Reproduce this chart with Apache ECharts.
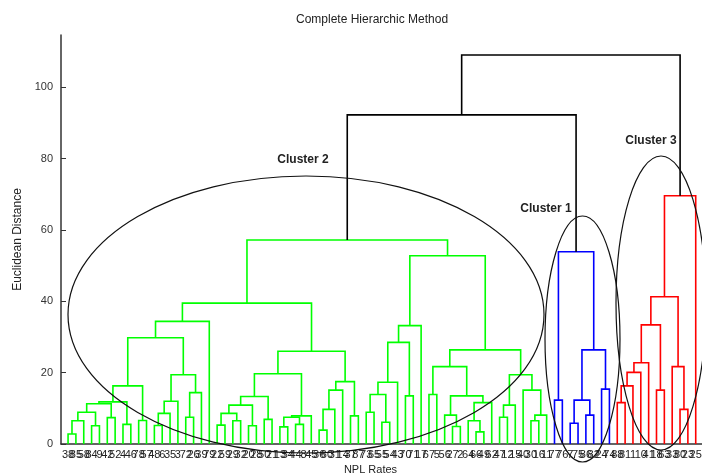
<!DOCTYPE html>
<html><head><meta charset="utf-8">
<script src="https://cdn.jsdelivr.net/npm/echarts@6/dist/echarts.min.js"></script>
<style>html,body{margin:0;padding:0;background:#fff}#c{width:702px;height:476px}</style>
</head><body><div id="c"></div>
<script>
// Leaf labels (NPL rate observation numbers), left to right
const leafLabels = [38,85,58,84,9,42,52,4,46,78,57,48,6,35,3,72,26,39,79,22,59,29,32,20,28,50,21,13,34,44,8,45,36,60,31,14,37,87,73,65,55,54,43,70,71,17,67,5,56,27,2,64,66,49,62,47,12,15,40,30,16,11,
  77,76,7,75,86,82,24,74,
  88,81,1,10,41,18,63,33,80,23,25];
// Linkage: [left child, right child, merge height]; numbers = leaves, 'mK' = merge K
const linkage = [
  [0,1,2.8],['m0',2,6.5],[3,4,5.1],['m1','m2',8.9],[5,6,7.4],['m3','m4',11.3],[7,8,5.5],['m5','m6',11.8],
  [9,10,6.6],['m7','m8',16.3],[11,12,5.2],['m10',13,8.6],['m11',14,12.0],[15,16,7.5],['m13',17,14.4],
  ['m12','m14',19.4],['m9','m15',29.8],['m16',18,34.4],
  [19,20,5.3],[21,22,6.5],['m18','m19',8.6],[23,24,5.1],['m20','m21',10.9],[25,26,6.9],['m22','m23',13.3],
  [27,28,4.8],[29,30,5.5],['m25','m26',7.5],['m27',31,7.9],['m24','m28',19.7],[32,33,3.9],['m30',34,9.7],
  ['m31',35,15.1],[36,37,7.9],['m32','m33',17.5],['m29','m34',26.0],['m17','m35',39.5],
  [38,39,8.9],[40,41,6.1],['m37','m38',13.9],['m39',42,17.3],[43,44,13.5],['m40','m41',28.5],['m42',45,33.2],
  [46,47,13.9],[49,50,4.9],[48,'m45',8.1],[52,53,3.4],[51,'m47',6.5],['m48',54,11.6],['m46','m49',13.5],
  ['m44','m50',21.7],[55,56,7.5],['m52',57,10.9],[59,60,6.5],['m54',61,8.1],[58,'m55',15.1],['m53','m56',19.4],
  ['m51','m57',26.4],['m43','m58',52.8],['m36','m59',57.2],
  [62,63,12.3],[64,65,5.8],[66,67,8.1],['m62','m63',12.3],[68,69,15.4],['m64','m65',26.4],['m61','m66',53.9],
  [70,71,11.6],['m68',72,16.3],['m69',73,20.1],['m70',74,22.8],[75,76,15.1],['m71','m72',33.4],[78,79,9.7],
  [77,'m74',21.7],['m73','m75',41.3],['m76',80,69.6],
  ['m60','m67',92.3],['m78','m77',109.1]
];
const yTickValues = [0,20,40,60,80,100];
const clusterColors = ['#00ff00','#0000ff','#ff0000'];
const clusterNames = ['Cluster 2','Cluster 1','Cluster 3'];

const N = leafLabels.length;
const ref = r => typeof r === 'string' ? N + (+r.slice(1)) : r;
const nodeX = [], nodeH = [], parent = [];
for (let i = 0; i < N; i++) { nodeX[i] = i; nodeH[i] = 0; }
linkage.forEach((row, k) => {
  const a = ref(row[0]), b = ref(row[1]);
  nodeX[N + k] = (nodeX[a] + nodeX[b]) / 2; nodeH[N + k] = row[2];
  parent[a] = N + k; parent[b] = N + k;
});
const maxH = Math.max(...linkage.map(r => r[2]));
const thr = 0.7 * maxH;
const colorIdx = [];
const roots = [];
linkage.forEach((row, k) => {
  const id = N + k;
  if (row[2] < thr && (parent[id] === undefined || nodeH[parent[id]] >= thr)) roots.push(id);
});
roots.sort((a, b) => nodeX[a] - nodeX[b]).forEach((id, i) => colorIdx[id] = i);
for (let k = linkage.length - 1; k >= 0; k--) {
  const id = N + k;
  if (nodeH[id] >= thr) colorIdx[id] = -1;
  else if (colorIdx[id] === undefined) colorIdx[id] = colorIdx[parent[id]];
}
const segData = linkage.map((row, k) => {
  const a = ref(row[0]), b = ref(row[1]);
  return [nodeX[a], nodeH[a], nodeX[b], nodeH[b], row[2], colorIdx[N + k]];
});

const X_MIN = -0.9, X_MAX = 80.8;
const labelValues = [X_MIN + 0.05].concat(leafLabels.map((_, i) => i), [X_MAX - 0.05]);

const chart = echarts.init(document.getElementById('c'));
const FONT = 'Liberation Sans, Arial, sans-serif';
const CL_FONT = 'bold 12px Liberation Sans, Arial';
chart.setOption({
  backgroundColor: '#fff',
  animation: false,
  title: { text: 'Complete Hierarchic Method', left: 291, top: 9,
    textStyle: { fontSize: 12, fontWeight: 'normal', color: '#222', fontFamily: FONT } },
  grid: { left: 61, right: 0, top: 35, bottom: 32, outerBoundsMode: 'none', containLabel: false },
  xAxis: {
    type: 'value', min: X_MIN, max: X_MAX,
    name: 'NPL Rates', nameLocation: 'middle', nameGap: 19,
    nameTextStyle: { fontSize: 11, color: '#222', fontFamily: FONT, padding: [0, 22, 0, 0] },
    axisLine: { show: true, onZero: false, lineStyle: { color: '#333', width: 1.5 } },
    axisTick: { show: false }, splitLine: { show: false },
    axisLabel: { customValues: labelValues, hideOverlap: false,
      margin: 5, fontSize: 11, color: '#222', fontFamily: FONT,
      formatter: v => Number.isInteger(v) && leafLabels[v] !== undefined ? String(leafLabels[v]) : '' }
  },
  yAxis: {
    type: 'value', min: 0, max: 114.7,
    name: 'Euclidean Distance', nameLocation: 'middle', nameGap: 35,
    nameTextStyle: { fontSize: 12, color: '#222', fontFamily: FONT },
    axisLine: { show: true, onZero: false, lineStyle: { color: '#333', width: 1.5 } },
    axisTick: { show: true, inside: true, length: 5, customValues: yTickValues, lineStyle: { color: '#333' } },
    splitLine: { show: false },
    axisLabel: { customValues: yTickValues, margin: 8, fontSize: 11, color: '#333', fontFamily: FONT }
  },
  series: [{
    type: 'custom',
    encode: { x: [0, 2], y: [1, 3, 4] },
    data: segData,
    renderItem: (params, api) => {
      const p1 = api.coord([api.value(0), api.value(1)]);
      const p2 = api.coord([api.value(0), api.value(4)]);
      const p3 = api.coord([api.value(2), api.value(4)]);
      const p4 = api.coord([api.value(2), api.value(3)]);
      const ci = api.value(5);
      return { type: 'polyline', shape: { points: [p1, p2, p3, p4] },
        style: { stroke: ci < 0 ? '#000' : clusterColors[ci], fill: 'none', lineWidth: 1.6 } };
    }
  }],
  graphic: [
    { type: 'ellipse', shape: { cx: 306, cy: 314.5, rx: 238, ry: 138.5 }, style: { fill: 'none', stroke: '#111', lineWidth: 1.2 }, z: 100 },
    { type: 'ellipse', shape: { cx: 582.5, cy: 339, rx: 37.5, ry: 123 }, style: { fill: 'none', stroke: '#111', lineWidth: 1.2 }, z: 100 },
    { type: 'ellipse', shape: { cx: 661, cy: 303, rx: 45, ry: 147 }, style: { fill: 'none', stroke: '#111', lineWidth: 1.2 }, z: 100 },
    { type: 'text', x: 303, y: 160, style: { text: clusterNames[0], align: 'center', verticalAlign: 'middle', font: CL_FONT, fill: '#222' }, z: 101 },
    { type: 'text', x: 546, y: 209, style: { text: clusterNames[1], align: 'center', verticalAlign: 'middle', font: CL_FONT, fill: '#222' }, z: 101 },
    { type: 'text', x: 651, y: 141, style: { text: clusterNames[2], align: 'center', verticalAlign: 'middle', font: CL_FONT, fill: '#222' }, z: 101 }
  ]
});
</script></body></html>
